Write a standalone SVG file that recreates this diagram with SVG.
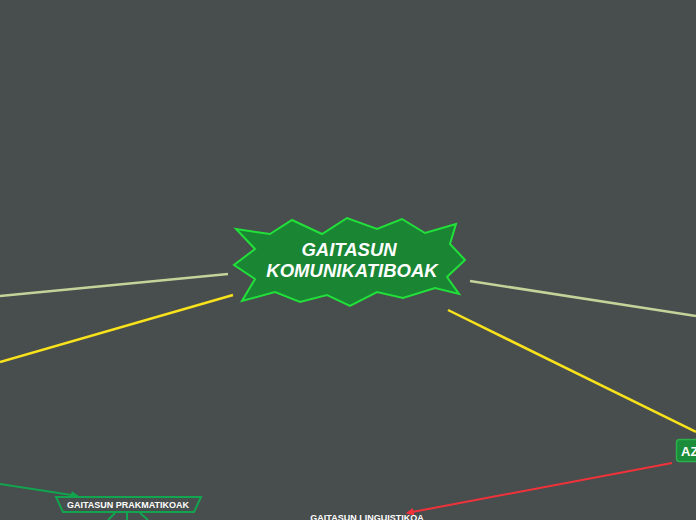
<svg xmlns="http://www.w3.org/2000/svg" width="696" height="520" viewBox="0 0 696 520">
<style>
.t{font-family:"Liberation Sans",Arial,sans-serif;fill:#fff;font-weight:bold}
.ln{fill:none;stroke-width:2.5}
</style>
<defs>
<marker id="ag" markerWidth="8" markerHeight="8" refX="7" refY="4" orient="auto" markerUnits="userSpaceOnUse"><path d="M0,0L8,4L0,8z" fill="#12a54f"/></marker>
<marker id="ar" markerWidth="8" markerHeight="8" refX="7" refY="4" orient="auto" markerUnits="userSpaceOnUse"><path d="M0,0L8,4L0,8z" fill="#f0333b"/></marker>
</defs>
<rect width="696" height="520" fill="#484d4d"/>
<g id="connectors">
<path class="ln" d="M228,274L0,296" stroke="#c4d39a"/>
<path class="ln" d="M470,281L696,316" stroke="#c4d39a"/>
<path class="ln" d="M233,295L0,362" stroke="#f7e21b"/>
<path class="ln" d="M448,310L696,432" stroke="#f7e21b"/>
<path d="M0,484L78,496" stroke="#12a54f" stroke-width="2" fill="none" marker-end="url(#ag)"/>
<path d="M672,463L407,513" stroke="#f0333b" stroke-width="2" fill="none" marker-end="url(#ar)"/>
<path d="M108,520L115,513M127,513L127,520M140,513L148,520" stroke="#12a54f" stroke-width="2" fill="none"/>
</g>
<g id="root">
<polygon points="236,229 270,234 292,220 322,234 347,218 377,229 402,219 425,233 456,224 450,244 465,260 447,277 459,294 435,288 403,298 377,292 350,306 327,295 300,302 275,292 242,301 255,279 234,265 255,249" fill="#1a8634" stroke="#22e03a" stroke-width="2" stroke-linejoin="miter"/>
<text class="t" x="349" y="256" text-anchor="middle" font-size="18.5" font-style="italic">GAITASUN</text>
<text class="t" x="352" y="277" text-anchor="middle" font-size="18.5" font-style="italic">KOMUNIKATIBOAK</text>
</g>
<g id="az">
<rect x="676.5" y="439.5" width="40" height="22" rx="3" fill="#1a8c3a" stroke="#2bb04b" stroke-width="1.5"/>
<text class="t" x="681" y="456" font-size="13">AZ</text>
</g>
<g id="prakmatikoak">
<polygon points="56,497 201,497 194,512 63,512" fill="#484d4d" stroke="#12a54f" stroke-width="2"/>
<text class="t" x="128" y="508" text-anchor="middle" font-size="9">GAITASUN PRAKMATIKOAK</text>
</g>
<g id="linguistikoa">
<text class="t" x="367" y="521" text-anchor="middle" font-size="9">GAITASUN LINGUISTIKOA</text>
</g>
</svg>
